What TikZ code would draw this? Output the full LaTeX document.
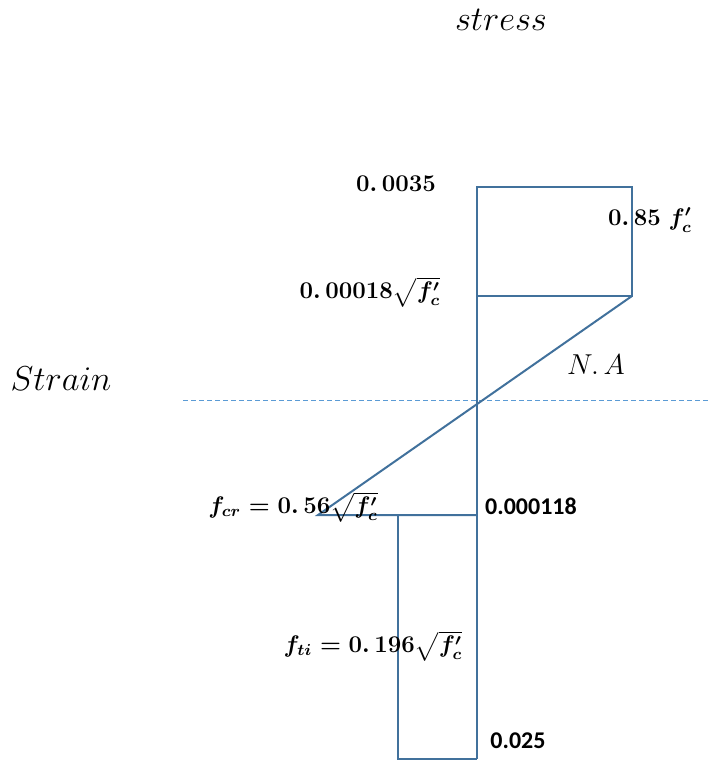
\documentclass[tikz,border=0pt]{standalone}
\usepackage{amsmath}
\usepackage{fontspec}
\newfontfamily\calibfont{Carlito}
\definecolor{lineblue}{RGB}{65,113,156}
\definecolor{axisblue}{RGB}{91,155,213}
\begin{document}
\begin{tikzpicture}[x=0.5pt, y=-0.5pt, font=\fontsize{12}{14}\selectfont,
    edge/.style={lineblue, line width=1pt},
    title/.style={inner sep=0pt, font=\fontsize{16}{19}\selectfont},
    lbl/.style={inner sep=0pt, font=\fontsize{12}{14}\selectfont\boldmath},
    num/.style={inner sep=0pt, font=\fontsize{12}{14}\selectfont\calibfont\bfseries}]
    \useasboundingbox (0,0) rectangle (708,760);
    % corners of the stress block
    \coordinate (top) at (477,187);
    \coordinate (topR) at (632,187);
    \coordinate (midL) at (477,296);
    \coordinate (midR) at (632,296);
    \coordinate (crL) at (318,515);
    \coordinate (crM) at (398,515);
    \coordinate (crR) at (477,515);
    \coordinate (botL) at (398,759);
    \coordinate (botR) at (477,759);
    \coordinate (naL) at (183,400);
    \coordinate (naR) at (708,400);
    % neutral axis
    \draw[axisblue, line width=0.5pt, dash pattern=on 2.5pt off 1.5pt] (naL) -- (naR);
    \draw[edge] (botR) -- (top) -- (topR) -- (midR) -- (midL);
    \draw[edge] (midR) -- (crL) -- (crR);
    \draw[edge] (crM) -- (botL) -- (botR);
    % labels
    \node[title] (stress) at (501,20) {$stress$};
    \node[title] (strain) at (61,379) {$Strain$};
    \node[inner sep=0pt, font=\fontsize{14}{17}\selectfont] (na) at (596,365) {$N.\,A$};
    \node[lbl] (epsTop) at (396,184) {$0.\,0035$};
    \node[lbl] (fcTop) at (650,220) {$0.\,85\;f'_c$};
    \node[lbl] (epsMid) at (370,292) {$0.\,00018\sqrt{f'_c}$};
    \node[lbl] (fcr) at (293,507) {$f_{cr}=0.\,56\sqrt{f'_c}$};
    \node[num] (epsCr) at (531,506) {0.000118};
    \node[lbl] (fti) at (373,646) {$f_{ti}=0.\,196\sqrt{f'_c}$};
    \node[num] (epsBot) at (518,741) {0.025};
\end{tikzpicture}
\end{document}
